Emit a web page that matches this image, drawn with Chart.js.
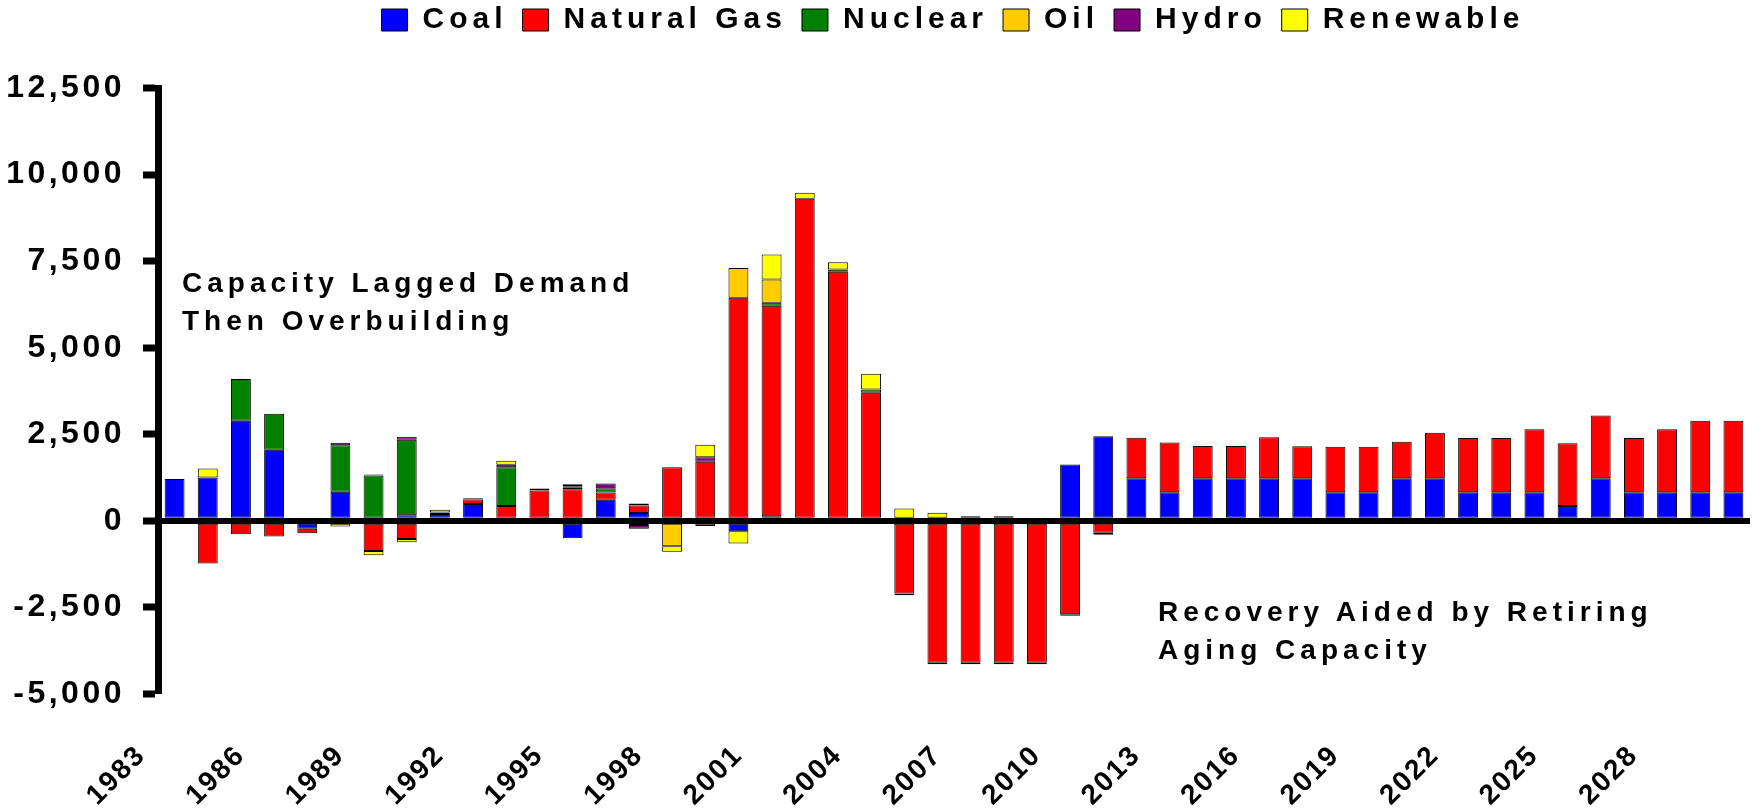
<!DOCTYPE html>
<html><head><meta charset="utf-8">
<script src="https://cdn.jsdelivr.net/npm/chart.js@4.4.1/dist/chart.umd.min.js"></script>
<style>
html,body{margin:0;padding:0;background:#fff;}
#wrap{position:relative;width:1752px;height:810px;overflow:hidden;background:#fff;}
canvas{position:absolute;left:0;top:0;}
.note{position:absolute;font-family:'Liberation Sans',Arial,sans-serif;font-weight:bold;font-size:28px;line-height:38px;letter-spacing:5px;color:#000;white-space:nowrap;}
</style></head>
<body><div id="wrap"><canvas id="c" width="1752" height="810"></canvas>
<div class="note" style="left:182px;top:264px">Capacity Lagged Demand<br>Then Overbuilding</div>
<div class="note" style="left:1158px;top:593px">Recovery Aided by Retiring<br>Aging Capacity</div>
</div>
<script>
const years = ['1983','1984','1985','1986','1987','1988','1989','1990','1991','1992','1993','1994','1995','1996','1997','1998','1999','2000','2001','2002','2003','2004','2005','2006','2007','2008','2009','2010','2011','2012','2013','2014','2015','2016','2017','2018','2019','2020','2021','2022','2023','2024','2025','2026','2027','2028','2029','2030'];
const tickYears = ['1983','1986','1989','1992','1995','1998','2001','2004','2007','2010','2013','2016','2019','2022','2025','2028'];
const yTickValues = [-5000,-2500,0,2500,5000,7500,10000,12500];

const coal    = [1210,1250,2890,2055,-225,840,0,160,200,485,0,0,-505,610,225,0,0,-300,130,0,0,0,0,0,0,0,0,1630,2440,1227,823,1227,1227,1227,1227,823,823,1227,1227,823,823,823,430,1227,823,823,823,823];
const gas     = [0,-1230,-390,-450,-130,0,-870,-525,0,130,430,880,910,210,215,1545,1710,6445,6080,9300,7195,3700,-2100,-4100,-4100,-4100,-4100,-2700,-340,1175,1443,932,932,1184,924,1319,1319,1059,1319,1568,1568,1819,1810,1819,1568,1819,2070,2070];
const nuclear = [0,0,1210,1040,0,1345,1310,2185,40,0,1120,0,45,125,-120,0,0,0,90,0,65,95,0,0,0,0,0,0,0,0,0,0,0,0,0,0,0,0,0,0,0,0,0,0,0,0,0,0];
const oil     = [0,0,0,0,0,0,0,0,0,0,0,0,0,0,60,-730,-150,855,670,0,0,0,-50,-40,-40,-40,-40,-40,-60,0,0,0,0,0,0,0,0,0,0,0,0,0,0,0,0,0,0,0];
const hydro   = [0,0,0,0,0,70,30,85,0,40,70,55,45,135,-105,0,130,0,0,0,0,0,0,0,0,0,0,0,0,0,0,0,0,0,0,0,0,0,0,0,0,0,0,0,0,0,0,0];
const renew   = [0,260,0,0,0,-160,-125,-90,80,0,115,0,60,0,0,-160,360,-355,720,175,210,450,355,235,130,130,0,0,0,0,0,0,0,0,0,0,0,0,0,0,0,0,0,0,0,0,0,0];

const seriesNames = ['Coal','Natural Gas','Nuclear','Oil','Hydro','Renewable'];
const seriesData = [coal, gas, nuclear, oil, hydro, renew];
const seriesColors = ['#0000FF','#FF0000','#008000','#FFCC00','#800080','#FFFF00'];
const FONT = "'Liberation Sans', Arial, sans-serif";

function spaced(obj, names, sp) {
  names.forEach(n => {
    const orig = obj[n];
    obj[n] = function() {
      const ctx = this.ctx; const prev = ctx.letterSpacing;
      ctx.letterSpacing = sp;
      try { return orig.apply(this, arguments); } finally { ctx.letterSpacing = prev; }
    };
  });
}
const spacingPlugin = {
  id: 'spacing',
  beforeLayout(chart) {
    if (chart.$spaced) return;
    chart.$spaced = true;
    spaced(chart.scales.x, ['update','drawLabels'], '2px');
    spaced(chart.scales.y, ['update','drawLabels'], '3.5px');
    chart.scales.y._computeLabelArea = function() { return undefined; };
    const lg = chart.legend;
    spaced(lg, ['fit','draw'], '5px');
    const fit0 = lg.fit;
    lg.fit = function() { fit0.apply(this, arguments); this.height = 88; };
    const draw0 = lg.draw;
    lg.draw = function() { const c = this.ctx; c.save(); c.translate(3, -10); draw0.apply(this, arguments); c.restore(); };
  }
};

new Chart(document.getElementById('c'), {
  type: 'bar',
  data: {
    labels: years,
    datasets: seriesNames.map((name, k) => ({
      label: name,
      data: seriesData[k].map(v => v === 0 ? null : v),
      backgroundColor: seriesColors[k],
      borderColor: '#000',
      borderWidth: 1,
      borderSkipped: false,
      barPercentage: 0.6,
      categoryPercentage: 1
    }))
  },
  options: {
    responsive: false,
    animation: false,
    devicePixelRatio: 1,
    layout: { padding: { left: 150, right: 2, top: 0, bottom: 0 } },
    plugins: {
      tooltip: { enabled: false },
      legend: {
        position: 'top',
        labels: { boxWidth: 26, boxHeight: 22, padding: 15, color: '#000', font: { family: FONT, size: 30, weight: 'bold' } }
      }
    },
    scales: {
      x: {
        stacked: true,
        offset: true,
        afterFit: s => { s.height = 116; s.paddingLeft = 0; s.paddingRight = 0; },
        grid: { display: false, drawTicks: false },
        border: { display: false },
        ticks: {
          autoSkip: false, minRotation: 45, maxRotation: 45, padding: 45, labelOffset: -33,
          color: '#000', font: { family: FONT, size: 28, weight: 'bold' },
          callback: function(v, i) { const y = years[i]; return tickYears.includes(y) ? y : ''; }
        }
      },
      y: {
        stacked: true,
        min: -5000, max: 12500,
        afterFit: s => { s.width = 8; },
        afterBuildTicks: s => { s.ticks = yTickValues.map(v => ({ value: v })); },
        ticks: {
          color: '#000', padding: 18,
          font: { family: FONT, size: 32, weight: 'bold' },
          callback: v => Number(v).toLocaleString('en-US')
        },
        grid: {
          z: 1,
          color: c => (c.tick && c.tick.value === 0) ? '#000' : 'rgba(0,0,0,0)',
          lineWidth: c => (c.tick && c.tick.value === 0) ? 6 : 0,
          tickColor: '#000', tickWidth: 7, tickLength: 15, drawTicks: true
        },
        border: { display: true, color: '#000', width: 7, z: 1 }
      }
    }
  },
  plugins: [spacingPlugin]
});
</script>
</body></html>
